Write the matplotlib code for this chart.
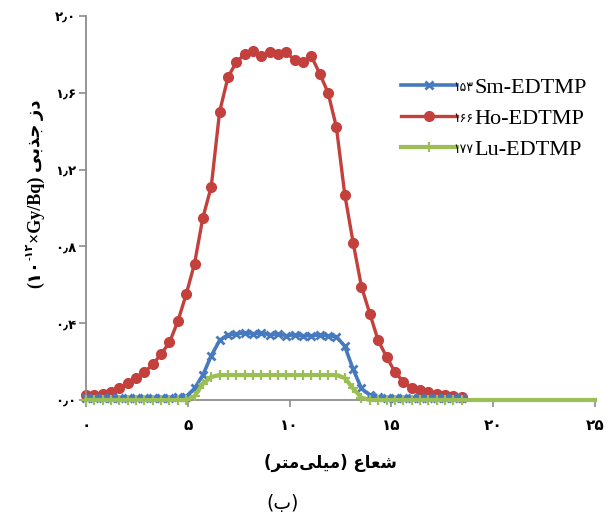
import matplotlib
matplotlib.use('Agg')
import matplotlib.pyplot as plt

# radius (mm) of the sampled points
radius = [0.00, 0.41, 0.82, 1.23, 1.64, 2.05, 2.46, 2.87, 3.28, 3.69,
          4.10, 4.51, 4.92, 5.33, 5.74, 6.15, 6.56, 6.97, 7.38, 7.79,
          8.20, 8.61, 9.02, 9.43, 9.84, 10.25, 10.66, 11.07, 11.48, 11.89,
          12.30, 12.71, 13.12, 13.53, 13.94, 14.35, 14.76, 15.17, 15.58, 15.99,
          16.40, 16.81, 17.22, 17.63, 18.04, 18.45]

sm_dose = [0.012, 0.012, 0.012, 0.012, 0.012, 0.012, 0.012, 0.012, 0.012, 0.012,
           0.012, 0.014, 0.018, 0.06, 0.13, 0.23, 0.31, 0.34, 0.345, 0.35,
           0.345, 0.35, 0.34, 0.345, 0.335, 0.34, 0.335, 0.335, 0.34, 0.335,
           0.33, 0.28, 0.16, 0.06, 0.025, 0.015, 0.012, 0.012, 0.012, 0.012,
           0.012, 0.012, 0.012, 0.012, 0.012, 0.012]

ho_dose = [0.025, 0.025, 0.03, 0.04, 0.06, 0.09, 0.115, 0.145, 0.185, 0.24,
           0.30, 0.41, 0.55, 0.71, 0.95, 1.11, 1.50, 1.68, 1.76, 1.80,
           1.82, 1.79, 1.81, 1.80, 1.81, 1.77, 1.76, 1.79, 1.70, 1.60,
           1.42, 1.07, 0.82, 0.59, 0.45, 0.31, 0.225, 0.147, 0.095, 0.065,
           0.05, 0.04, 0.03, 0.025, 0.02, 0.015]

lu_dose = [0.0, 0.0, 0.0, 0.0, 0.0, 0.0, 0.0, 0.0, 0.0, 0.0,
           0.0, 0.0, 0.0, 0.02, 0.085, 0.12, 0.13, 0.13, 0.13, 0.13,
           0.13, 0.13, 0.13, 0.13, 0.13, 0.13, 0.13, 0.13, 0.13, 0.13,
           0.13, 0.115, 0.06, 0.012, 0.0, 0.0, 0.0, 0.0, 0.0, 0.0,
           0.0, 0.0, 0.0, 0.0, 0.0, 0.0]
# the Lu line carries on to the end of the axis
lu_radius_end = 25.0
lu_dose_end = 0.0

labels = ['Sm-EDTMP', 'Ho-EDTMP', 'Lu-EDTMP']
mass_numbers = ['\u06f1\u06f5\u06f3', '\u06f1\u06f6\u06f6', '\u06f1\u06f7\u06f7']

x_ticks = [0, 5, 10, 15, 20, 25]
x_tick_labels = ['\u06f0', '\u06f5', '\u06f1\u06f0', '\u06f1\u06f5', '\u06f2\u06f0', '\u06f2\u06f5']
y_ticks = [0.0, 0.4, 0.8, 1.2, 1.6, 2.0]
y_tick_labels = ['\u06f0\u066b\u06f0', '\u06f0\u066b\u06f4', '\u06f0\u066b\u06f8',
                 '\u06f1\u066b\u06f2', '\u06f1\u066b\u06f6', '\u06f2\u066b\u06f0']

# persian text written in visual order with presentation forms
dose_word = '\ufef0\ufe91\ufeac\ufe9f \ufeaf\ufea9'
x_title = '(\ufeae\ufe98\ufee3\ufef0\ufee0\ufef4\ufee3) \ufec9\ufe8e\ufecc\ufeb7'
caption = '(\ufe8f)'
# y title pieces, bottom to top: (text, size, superscript?)
y_title_parts = [('(\u06f1\u06f0', 13, False),
                 ('-\u06f1\u06f2', 8, True),
                 ('\u00d7Gy/Bq) ', 13, False),
                 (dose_word, 13, False)]

W, H = 606, 516
fig = plt.figure(figsize=(W / 100, H / 100), dpi=100)
ax = fig.add_axes([86 / W, 1 - 400 / H, 509 / W, 384 / H])

blue = '#4679BD'
red = '#C3403D'
green = '#9BBE55'

ax.plot(radius, sm_dose, color=blue, lw=2.6, marker='x', ms=6, mew=2,
        label=labels[0], clip_on=False, zorder=3)
ax.plot(radius, ho_dose, color=red, lw=2.4, marker='o', ms=7, mec=red,
        label=labels[1], clip_on=False, zorder=2)
ax.plot(radius + [lu_radius_end], lu_dose + [lu_dose_end], color=green, lw=3,
        marker='+', ms=7, mew=1.6, markevery=slice(0, len(radius)),
        label=labels[2], clip_on=False, zorder=4)

ax.set_xlim(0, 25)
ax.set_ylim(0, 2.0)
ax.set_xticks(x_ticks)
ax.set_xticklabels(x_tick_labels, fontsize=11, fontweight='bold', family='DejaVu Sans')
ax.set_yticks(y_ticks)
ax.set_yticklabels(y_tick_labels, fontsize=9.5, fontweight='bold', family='DejaVu Sans')

for side in ['top', 'right']:
    ax.spines[side].set_visible(False)
for side in ['left', 'bottom']:
    ax.spines[side].set_color('#8C8C8C')
    ax.spines[side].set_linewidth(1.3)
ax.tick_params(axis='both', direction='out', length=5, width=1.2, color='#8C8C8C')
ax.tick_params(axis='y', pad=2)
ax.tick_params(axis='x', pad=8)

leg = ax.legend(loc='upper left', bbox_to_anchor=(401 / W, 1 - 77 / H),
                bbox_transform=fig.transFigure, frameon=False,
                prop={'family': 'Liberation Serif', 'size': 16},
                handlelength=2.5, handletextpad=0.8, labelspacing=0.48,
                borderpad=0, borderaxespad=0)

fig.text(330 / W, 1 - 463 / H, x_title, ha='center', va='center',
         fontsize=12, fontweight='bold', family='DejaVu Sans')
fig.text(283 / W, 1 - 503 / H, caption, ha='center', va='center',
         fontsize=13.5, family='DejaVu Sans')

fig.canvas.draw()
renderer = fig.canvas.get_renderer()

# y title drawn piece by piece, upwards from the bottom
y_pos = H - 288
for part, size, is_sup in y_title_parts:
    x_pos = 30 if is_sup else 36
    t = fig.text(x_pos / W, y_pos / H, part, rotation=90, ha='center', va='bottom',
                 fontsize=size, fontweight='bold',
                 family=['Liberation Serif', 'DejaVu Sans'])
    y_pos = t.get_window_extent(renderer).y1

# small mass numbers in front of each legend entry
for txt, num in zip(leg.get_texts(), mass_numbers):
    bb = txt.get_window_extent(renderer)
    fig.text((bb.x0 - 1) / W, (bb.y1 - 2) / H, num, ha='right', va='top',
             fontsize=9, family='DejaVu Sans')

fig.savefig('out.png', dpi=100)
